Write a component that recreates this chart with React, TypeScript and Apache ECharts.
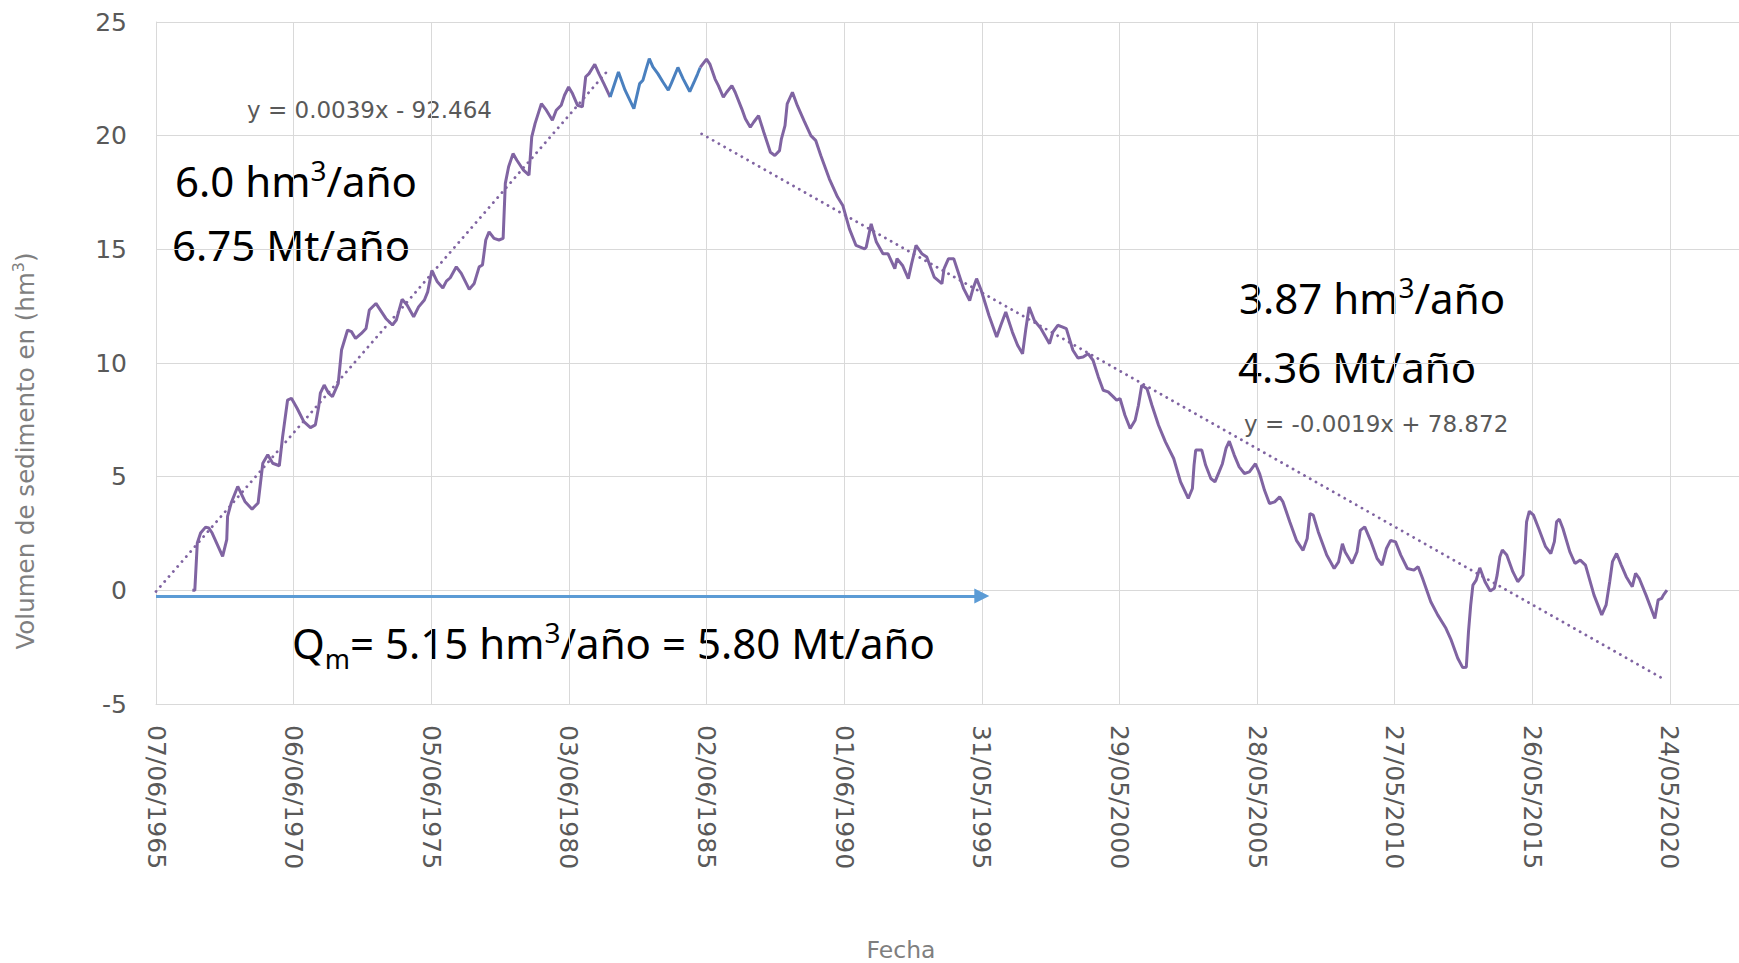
import { useEffect, useRef } from "react";
import * as echarts from "echarts";

// ---------------- Datos ----------------
// Eje X: días desde el 07/06/1965; ticks cada 1825 días
const FECHA_BASE_UTC = Date.UTC(1965, 5, 7);
const T0 = 1965.43; // 07/06/1965 en año decimal
const INTERVALO_DIAS = 1825;
const MAX_DIAS = 20990;
const Y_MIN = -5;
const Y_MAX = 25;
const Y_PASO = 5;

// Tramo 1 (morado) 1966-1982
const tramo1Anio = [
  1966.75, 1966.84, 1966.93, 1967.05, 1967.23, 1967.35, 1967.47, 1967.85, 1968.0, 1968.03,
  1968.16, 1968.4, 1968.66, 1968.92, 1969.14, 1969.31, 1969.49, 1969.67, 1969.91, 1970.03,
  1970.21, 1970.35, 1970.56, 1970.8, 1971.04, 1971.22, 1971.34, 1971.4, 1971.54, 1971.7,
  1971.84, 1972.05, 1972.17, 1972.39, 1972.53, 1972.68, 1972.89, 1973.06, 1973.18, 1973.42,
  1973.54, 1973.78, 1974.02, 1974.16, 1974.37, 1974.55, 1974.79, 1974.97, 1975.18, 1975.3,
  1975.45, 1975.65, 1975.85, 1975.98, 1976.12, 1976.34, 1976.52, 1976.81, 1976.99, 1977.17,
  1977.29, 1977.41, 1977.53, 1977.71, 1977.89, 1978.04, 1978.12, 1978.24, 1978.4, 1978.54,
  1978.78, 1978.98, 1979.08, 1979.2, 1979.43, 1979.61, 1979.83, 1979.97, 1980.15, 1980.27,
  1980.42, 1980.56, 1980.74, 1980.92, 1981.04, 1981.16, 1981.37, 1981.52, 1981.7, 1981.93,
];
const tramo1Vol = [
  0.0, 0.0, 2.08, 2.52, 2.78, 2.74, 2.52, 1.49, 2.23, 3.25,
  3.84, 4.57, 3.91, 3.57, 3.84, 5.59, 5.96, 5.59, 5.48, 6.76,
  8.37, 8.45, 8.0, 7.42, 7.16, 7.28, 8.08, 8.67, 9.03, 8.67,
  8.52, 9.1, 10.57, 11.45, 11.38, 11.08, 11.3, 11.52, 12.33, 12.62,
  12.4, 11.96, 11.67, 11.89, 12.8, 12.55, 12.03, 12.47, 12.77, 13.13,
  14.07, 13.57, 13.3, 13.6, 13.75, 14.23, 13.94, 13.24, 13.5, 14.23,
  14.31, 15.41, 15.77, 15.48, 15.41, 15.48, 17.9, 18.63, 19.21, 18.92,
  18.48, 18.26, 19.95, 20.53, 21.41, 21.12, 20.68, 21.12, 21.34, 21.78,
  22.14, 21.85, 21.34, 21.27, 22.59, 22.73, 23.14, 22.73, 22.29, 21.7,
];

// Tramo azul 1982-1985
const tramoAzulAnio = [
  1981.93, 1982.23, 1982.47, 1982.79, 1983.0, 1983.12, 1983.24, 1983.35, 1983.48, 1983.66,
  1983.84, 1984.04, 1984.15, 1984.39, 1984.58, 1984.82, 1985.0, 1985.1, 1985.2,
];
const tramoAzulVol = [
  21.7, 22.8, 22.0, 21.19, 22.29, 22.44, 22.95, 23.39, 23.03, 22.73,
  22.37, 22.0, 22.3, 23.0, 22.5, 21.94, 22.42, 22.7, 23.0,
];

// Tramo 2 (morado) 1985-2020
const tramo2Anio = [
  1985.2, 1985.43, 1985.55, 1985.74, 1985.86, 1986.04, 1986.16, 1986.35, 1986.47, 1986.71,
  1986.84, 1987.02, 1987.14, 1987.32, 1987.51, 1987.75, 1987.91, 1988.08, 1988.15, 1988.28,
  1988.36, 1988.55, 1988.73, 1988.97, 1989.22, 1989.4, 1989.58, 1989.89, 1990.19, 1990.38,
  1990.62, 1990.86, 1991.17, 1991.23, 1991.41, 1991.6, 1991.84, 1992.02, 1992.27, 1992.35,
  1992.55, 1992.76, 1992.88, 1993.04, 1993.25, 1993.43, 1993.7, 1993.98, 1994.06, 1994.22,
  1994.41, 1994.59, 1994.77, 1994.99, 1995.11, 1995.24, 1995.41, 1995.69, 1995.97, 1996.12,
  1996.3, 1996.54, 1996.73, 1996.91, 1997.03, 1997.15, 1997.34, 1997.58, 1997.89, 1998.01,
  1998.19, 1998.37, 1998.5, 1998.74, 1998.92, 1999.11, 1999.29, 1999.47, 1999.66, 1999.84,
  2000.02, 2000.21, 2000.33, 2000.45, 2000.63, 2000.82, 2001.0, 2001.12, 2001.24, 2001.43,
  2001.61, 2001.85, 2002.1, 2002.4, 2002.65, 2002.93, 2003.08, 2003.14, 2003.2, 2003.42,
  2003.56, 2003.75, 2003.9, 2004.05, 2004.17, 2004.3, 2004.42, 2004.6, 2004.78, 2004.97,
  2005.15, 2005.37, 2005.52, 2005.7, 2005.88, 2006.07, 2006.25, 2006.37, 2006.62, 2006.86,
  2007.1, 2007.25, 2007.35, 2007.47, 2007.65, 2007.96, 2008.23, 2008.39, 2008.53, 2008.63,
  2008.88, 2009.06, 2009.18, 2009.34, 2009.55, 2009.79, 2009.97, 2010.13, 2010.28, 2010.46,
  2010.65, 2010.89, 2011.13, 2011.28, 2011.44, 2011.74, 2011.99, 2012.29, 2012.48, 2012.72,
  2012.9, 2013.03, 2013.11, 2013.19, 2013.27, 2013.39, 2013.52, 2013.71, 2013.9, 2014.05,
  2014.15, 2014.25, 2014.34, 2014.5, 2014.72, 2014.9, 2015.09, 2015.16, 2015.22, 2015.32,
  2015.47, 2015.66, 2015.91, 2016.1, 2016.23, 2016.31, 2016.41, 2016.54, 2016.79, 2016.98,
  2017.17, 2017.36, 2017.67, 2017.95, 2018.11, 2018.24, 2018.34, 2018.49, 2018.66, 2018.84,
  2019.06, 2019.18, 2019.31, 2019.56, 2019.88, 2020.0, 2020.13, 2020.19, 2020.32,
];
const tramo2Vol = [
  23.0, 23.37, 23.15, 22.49, 22.2, 21.69, 21.91, 22.2, 21.91, 21.18,
  20.74, 20.37, 20.59, 20.88, 20.15, 19.27, 19.13, 19.34, 19.86, 20.44,
  21.4, 21.91, 21.32, 20.66, 20.0, 19.78, 19.13, 18.1, 17.3, 16.93,
  15.9, 15.17, 15.02, 15.09, 16.12, 15.32, 14.81, 14.81, 14.15, 14.59,
  14.29, 13.71, 14.37, 15.17, 14.81, 14.66, 13.78, 13.49, 14.15, 14.59,
  14.59, 13.93, 13.27, 12.75, 13.27, 13.71, 13.19, 12.09, 11.14, 11.66,
  12.24, 11.36, 10.78, 10.41, 11.51, 12.46, 11.87, 11.51, 10.85, 11.36,
  11.66, 11.58, 11.51, 10.56, 10.22, 10.26, 10.41, 10.12, 9.4, 8.8,
  8.73, 8.51, 8.36, 8.44, 7.7, 7.12, 7.48, 8.14, 9.02, 8.87,
  8.14, 7.26, 6.53, 5.8, 4.77, 4.04, 4.48, 5.51, 6.17, 6.17,
  5.51, 4.92, 4.77, 5.21, 5.57, 6.24, 6.56, 5.95, 5.43, 5.14,
  5.21, 5.57, 5.14, 4.4, 3.82, 3.89, 4.11, 3.89, 3.01, 2.2,
  1.76, 2.28, 3.38, 3.31, 2.58, 1.55, 0.96, 1.25, 2.05, 1.69,
  1.18, 1.69, 2.64, 2.79, 2.2, 1.4, 1.11, 1.84, 2.2, 2.13,
  1.55, 0.96, 0.89, 1.04, 0.53, -0.5, -1.08, -1.67, -2.18, -2.99,
  -3.4, -3.38, -1.82, -0.65, 0.23, 0.45, 0.99, 0.38, -0.03, 0.09,
  0.67, 1.48, 1.77, 1.55, 0.82, 0.38, 0.67, 1.84, 3.01, 3.48,
  3.31, 2.72, 1.92, 1.62, 2.14, 3.01, 3.13, 2.72, 1.7, 1.18,
  1.33, 1.11, -0.21, -1.08, -0.64, 0.38, 1.26, 1.62, 1.11, 0.6,
  0.16, 0.75, 0.53, -0.21, -1.24, -0.42, -0.35, -0.21, 0.01,
];

// Líneas de tendencia (extremos)
const tendencia1Anio = [1965.43, 1981.87];
const tendencia1Vol = [-0.05, 22.9];
const tendencia2Anio = [1985.25, 2020.25];
const tendencia2Vol = [20.08, -3.94];

// Flecha Qm
const flechaAnio = [1965.43, 1995.43];
const flechaVol = [-0.25, -0.25];

// Textos
const ecuacion1 = "y = 0.0039x - 92.464";
const ecuacion2 = "y = -0.0019x + 78.872";

// ---------------- Utilidades ----------------
// (los años se leyeron con 5 años por intervalo de ticks de 1825 días)
const aDias = (t: number) => (t - T0) * (INTERVALO_DIAS / 5);
const pares = (ts: number[], vs: number[]) => ts.map((t, i) => [aDias(t), vs[i]]);
const pad = (n: number) => (n < 10 ? "0" + n : "" + n);
const formatoFecha = (v: number) => {
  const r = Math.round(v);
  if (Math.abs(r % INTERVALO_DIAS) > 0) return "";
  const d = new Date(FECHA_BASE_UTC + r * 86400000);
  return `${pad(d.getUTCDate())}/${pad(d.getUTCMonth() + 1)}/${d.getUTCFullYear()}`;
};

const MORADO = "#8064a2";
const AZUL = "#4a80bf";
const AZUL_FLECHA = "#5b9bd5";
const GRIS_REJILLA = "#d9d9d9";
const GRIS_TEXTO = "#595959";
const GRIS_TITULO = "#7f7f7f";

const bigRich = {
  n: { fontSize: 42, fontFamily: "Noto Sans", fill: "#000", lineHeight: 60 },
  sup: { fontSize: 28, fontFamily: "Noto Sans", fill: "#000", verticalAlign: "middle", padding: [0, 0, 20, 0] },
  sub: { fontSize: 27, fontFamily: "Noto Sans", fill: "#000", lineHeight: 28, verticalAlign: "bottom" },
};

function bigText(x: number, y: number, text: string) {
  return {
    type: "text",
    x,
    y,
    silent: true,
    style: { text, rich: bigRich, align: "left", verticalAlign: "top" },
  };
}

export default function App() {
  const ref = useRef<HTMLDivElement>(null);

  useEffect(() => {
    if (!ref.current) return;
    const chart = echarts.init(ref.current, undefined, { renderer: "svg" });

    const lineSerie = (data: number[][], color: string) => ({
      type: "line",
      data,
      showSymbol: false,
      symbol: "none",
      smooth: false,
      lineStyle: { color, width: 3 },
      itemStyle: { color },
      z: 3,
    });
    const trendSerie = (data: number[][]) => ({
      type: "line",
      data,
      showSymbol: false,
      symbol: "none",
      lineStyle: { color: MORADO, width: 2.8, type: [0.1, 6.5], cap: "round" },
      z: 2,
    });

    const flecha = pares(flechaAnio, flechaVol);

    const option = {
      animation: false,
      backgroundColor: "#ffffff",
      grid: { left: 156, right: 0, top: 22, bottom: 259, containLabel: false },
      xAxis: {
        type: "value",
        min: 0,
        max: MAX_DIAS,
        interval: INTERVALO_DIAS,
        axisLine: { show: true, onZero: false, lineStyle: { color: GRIS_REJILLA, width: 1 } },
        axisTick: { show: false },
        axisLabel: {
          rotate: -90,
          margin: 21,
          color: GRIS_TEXTO,
          fontSize: 25,
          fontFamily: "DejaVu Sans",
          formatter: formatoFecha,
          showMaxLabel: false,
        },
        splitLine: { show: true, lineStyle: { color: GRIS_REJILLA, width: 1 } },
      },
      yAxis: {
        type: "value",
        min: Y_MIN,
        max: Y_MAX,
        interval: Y_PASO,
        axisLine: { show: true, lineStyle: { color: GRIS_REJILLA, width: 1 } },
        axisTick: { show: false },
        axisLabel: { color: GRIS_TEXTO, fontSize: 25, fontFamily: "DejaVu Sans", margin: 29 },
        splitLine: { show: true, lineStyle: { color: GRIS_REJILLA, width: 1 } },
      },
      series: [
        trendSerie(pares(tendencia1Anio, tendencia1Vol)),
        trendSerie(pares(tendencia2Anio, tendencia2Vol)),
        lineSerie(pares(tramo1Anio, tramo1Vol), MORADO),
        lineSerie(pares(tramoAzulAnio, tramoAzulVol), AZUL),
        lineSerie(pares(tramo2Anio, tramo2Vol), MORADO),
        {
          type: "line",
          data: flecha,
          showSymbol: false,
          symbol: "none",
          lineStyle: { opacity: 0 },
          z: 4,
          markLine: {
            silent: true,
            symbol: ["none", "triangle"],
            symbolSize: [15, 15],
            label: { show: false },
            lineStyle: { color: AZUL_FLECHA, width: 3, type: "solid" },
            data: [[{ coord: flecha[0] }, { coord: flecha[1] }]],
          },
        },
      ],
      graphic: [
        {
          type: "text",
          x: 25,
          y: 451,
          rotation: Math.PI / 2,
          silent: true,
          style: {
            text: "{n|Volumen de sedimento en (hm}{s|3}{n|)}",
            align: "center",
            verticalAlign: "middle",
            rich: {
              n: { fontSize: 24.5, fontFamily: "DejaVu Sans", fill: GRIS_TITULO, lineHeight: 30 },
              s: { fontSize: 16, fontFamily: "DejaVu Sans", fill: GRIS_TITULO, lineHeight: 22, verticalAlign: "top" },
            },
          },
        },
        {
          type: "text",
          x: 901,
          y: 950,
          silent: true,
          style: {
            text: "Fecha",
            fill: GRIS_TITULO,
            fontSize: 23.5,
            fontFamily: "DejaVu Sans",
            align: "center",
            verticalAlign: "middle",
          },
        },
        {
          type: "text",
          x: 247,
          y: 110,
          silent: true,
          style: { text: ecuacion1, fill: GRIS_TEXTO, fontSize: 23, fontFamily: "DejaVu Sans", align: "left", verticalAlign: "middle" },
        },
        {
          type: "text",
          x: 1244,
          y: 424,
          silent: true,
          style: { text: ecuacion2, fill: GRIS_TEXTO, fontSize: 23, fontFamily: "DejaVu Sans", align: "left", verticalAlign: "middle" },
        },
        bigText(175, 150, "{n|6.0 hm}{sup|3}{n|/año}"),
        bigText(172, 214, "{n|6.75 Mt/año}"),
        bigText(1239, 267, "{n|3.87 hm}{sup|3}{n|/año}"),
        bigText(1238, 336, "{n|4.36 Mt/año}"),
        bigText(292, 612, "{n|Q}{sub|m}{n|= 5.15 hm}{sup|3}{n|/año = 5.80 Mt/año}"),
      ],
    };

    chart.setOption(option as any);
    return () => chart.dispose();
  }, []);

  return (
    <div
      ref={ref}
      style={{ position: "fixed", left: 0, top: 0, width: 1739, height: 963, background: "#fff" }}
    />
  );
}
